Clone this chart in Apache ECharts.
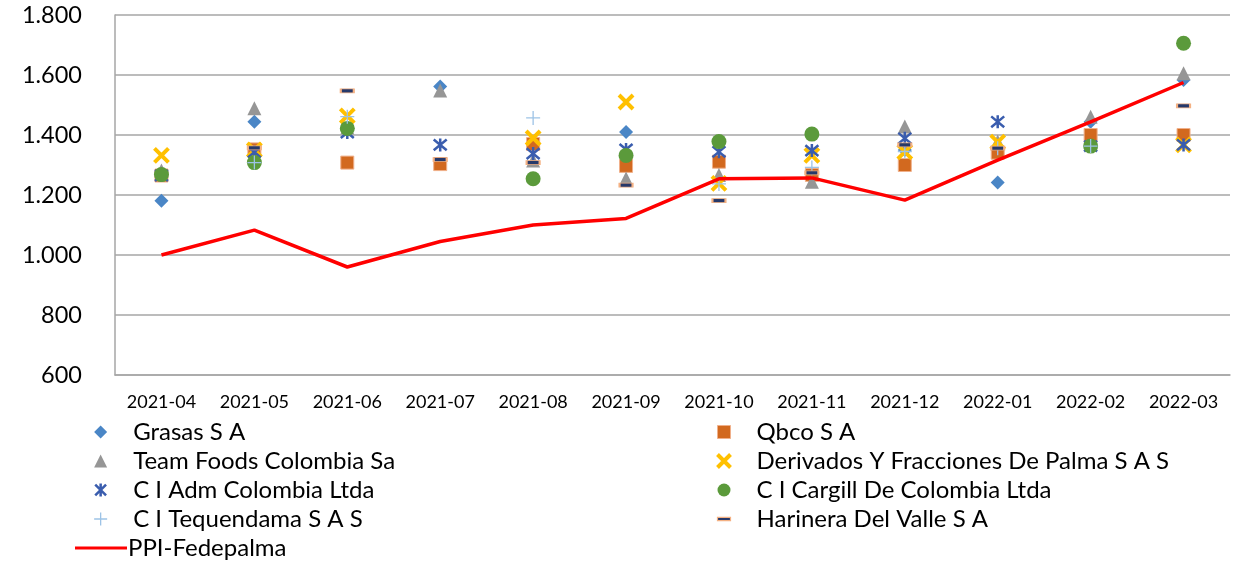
<!DOCTYPE html>
<html>
<head>
<meta charset="utf-8">
<script src="https://cdn.jsdelivr.net/npm/echarts@6/dist/echarts.min.js"></script>
<style>
html,body{margin:0;padding:0;background:#fff;}
#chart{width:1234px;height:562px;}
</style>
</head>
<body>
<div id="chart"></div>
<script>
const categories = ['2021-04','2021-05','2021-06','2021-07','2021-08','2021-09','2021-10','2021-11','2021-12','2022-01','2022-02','2022-03'];
const grasas     = [1181, 1444, 1422, 1562, 1370, 1410, 1311, 1267, 1350, 1242, 1444, 1583];
const qbco       = [1265, 1352, 1308, 1303, 1370, 1297, 1311, 1267, 1300, 1341, 1400, 1400];
const teamFoods  = [1282, 1489, 1425, 1548, 1315, 1255, 1267, 1244, 1428, 1378, 1461, 1606];
const derivados  = [1332, 1350, 1464, null, 1390, 1510, 1239, 1332, 1344, 1376, null, 1367];
const adm        = [1265, 1343, 1408, 1367, 1338, 1352, 1344, 1348, 1389, 1444, 1363, 1367];
const cargill    = [1268, 1308, 1422, null, 1254, 1332, 1378, 1403, null, null, 1363, 1706];
const tequendama = [null, 1308, 1461, null, 1457, null, 1237, 1292, 1345, 1356, 1363, null];
const harinera   = [null, 1357, 1547, 1318, 1308, 1233, 1181, 1274, 1367, 1356, null, 1497];
const ppi        = [1000, 1083, 960, 1045, 1100, 1122, 1254, 1257, 1183, 1316, 1444, 1575];
const yTicks = [600, 800, 1000, 1200, 1400, 1600, 1800];

const FONT = 'Lato, "Open Sans", sans-serif';
const P_X = 'path://M0,0 L10,10 M10,0 L0,10';
const P_AST = 'path://M0,0 L10,10 M10,0 L0,10 M5,-1 L5,11';
const P_PLUS = 'path://M5,0 L5,10 M0,5 L10,5';
const P_DASH = 'path://M0,0 L12,0 L12,3 L0,3 Z';

function fmt(v){ return v >= 1000 ? Math.floor(v/1000) + '.' + String(v%1000).padStart(3,'0') : String(v); }

const scatterDefs = [
  {name:'Grasas S A', data:grasas, symbol:'diamond', size:14, style:{color:'#4A86C6', opacity:1}},
  {name:'Qbco S A', data:qbco, symbol:'rect', size:13, style:{color:'#D2691F', borderColor:'#F0B08A', borderWidth:1, opacity:1}},
  {name:'Team Foods Colombia Sa', data:teamFoods, symbol:'triangle', size:14, style:{color:'#969696', opacity:1}},
  {name:'Derivados Y Fracciones De Palma S A S', data:derivados, symbol:P_X, size:14, style:{color:'rgba(0,0,0,0)', borderColor:'#FFC000', borderWidth:4, opacity:1}},
  {name:'C I Adm Colombia Ltda', data:adm, symbol:P_AST, size:13, style:{color:'rgba(0,0,0,0)', borderColor:'#3A5DAE', borderWidth:2.5, opacity:1}},
  {name:'C I Cargill De Colombia Ltda', data:cargill, symbol:'circle', size:15, style:{color:'#5B9A3B', opacity:1}},
  {name:'C I Tequendama S A S', data:tequendama, symbol:P_PLUS, size:14, style:{color:'rgba(0,0,0,0)', borderColor:'#9DC3E6', borderWidth:1.3, opacity:1}},
  {name:'Harinera Del Valle S A', data:harinera, symbol:P_DASH, size:[13,4], style:{color:'#26396A', borderColor:'#F4B183', borderWidth:1.2, opacity:1}}
];

const series = scatterDefs.map(d => ({
  name:d.name, type:'scatter', data:d.data, symbol:d.symbol, symbolSize:d.size,
  itemStyle:d.style, emphasis:{disabled:true}, z:2
}));
series.push({
  name:'PPI-Fedepalma', type:'line', data:ppi, symbol:'none', showSymbol:false,
  lineStyle:{color:'#FF0000', width:3.5}, itemStyle:{color:'#FF0000'}, z:3
});

function legendItem(d){
  const it = {name:d.name, itemStyle:Object.assign({}, d.style)};
  if (d.symbol === P_DASH) it.icon = P_DASH;
  if (d.name === 'Grasas S A') it.icon = 'path://M5,0 L10,5 L5,10 L0,5 Z';
  return it;
}
const leftCol = [0,2,4,6].map(i => legendItem(scatterDefs[i]));
const rightCol = [1,3,5,7].map(i => legendItem(scatterDefs[i]));

const legText = {fontFamily:FONT, fontSize:24, color:'#000', lineHeight:24, padding:[0,0,0,21]};
const baseLegend = {orient:'vertical', itemWidth:13, itemHeight:13, itemGap:5, top:420, textStyle:legText, selectedMode:false, padding:0};

const chart = echarts.init(document.getElementById('chart'), null, {renderer:'canvas'});
chart.setOption({
  animation:false,
  backgroundColor:'#fff',
  grid:{left:115, right:4, top:15, bottom:187, containLabel:false},
  xAxis:{type:'category', data:categories, boundaryGap:true,
    axisLine:{show:true, lineStyle:{color:'#A6A6A6', width:1.5}},
    axisTick:{show:false},
    axisLabel:{fontFamily:FONT, fontSize:18, color:'#000', margin:18, interval:0},
    splitLine:{show:false}},
  yAxis:{type:'value', min:yTicks[0], max:yTicks[yTicks.length-1], interval:200,
    axisLine:{show:true, lineStyle:{color:'#A6A6A6', width:1.5}},
    axisTick:{show:false},
    axisLabel:{fontFamily:FONT, fontSize:23.5, color:'#000', margin:33, formatter:fmt},
    splitLine:{show:true, lineStyle:{color:'#A6A6A6', width:1.5}}},
  legend:[
    Object.assign({}, baseLegend, {left:93.5, data:leftCol}),
    Object.assign({}, baseLegend, {left:715.5, data:rightCol}),
    {orient:'horizontal', left:75, top:536, itemWidth:52, itemHeight:3, padding:0, selectedMode:false,
     textStyle:{fontFamily:FONT, fontSize:24, color:'#000', lineHeight:24, padding:[0,0,0,-4]},
     data:[{name:'PPI-Fedepalma', icon:'rect', itemStyle:{color:'#FF0000'}}]}
  ],
  series:series
});
</script>
</body>
</html>
